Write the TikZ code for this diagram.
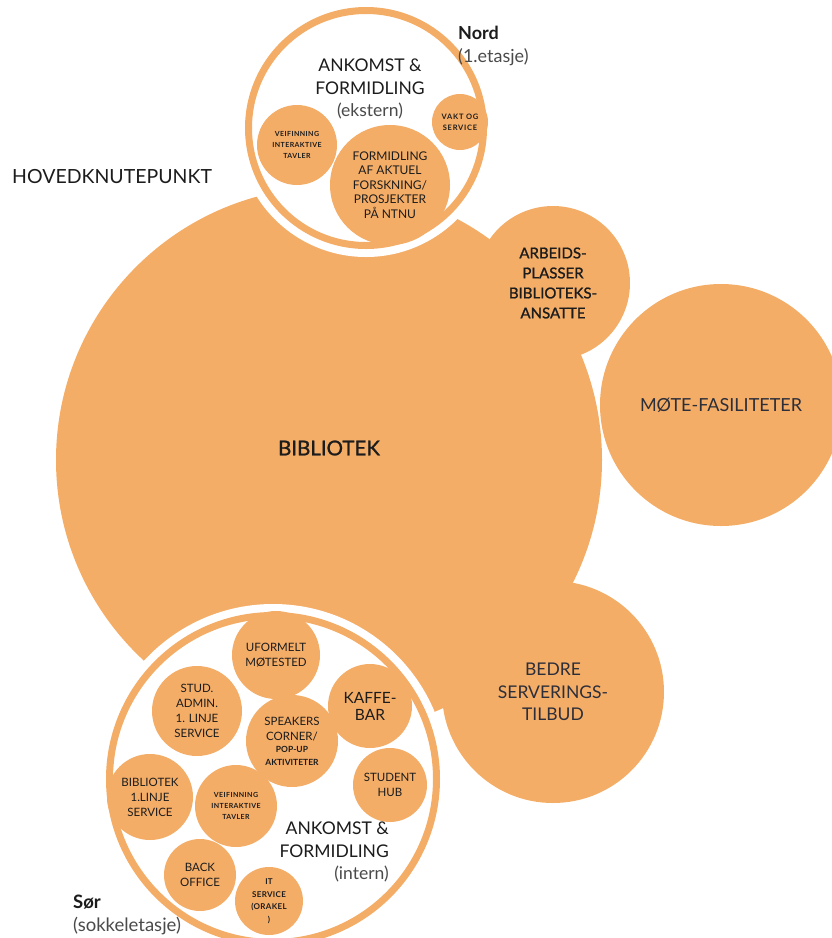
\documentclass[tikz,border=0pt]{standalone}
\usepackage{fontspec}
\setmainfont{Lato}
\newfontfamily\medfont{Lato}[FakeBold=1.2]
\usetikzlibrary{positioning}
\definecolor{orng}{HTML}{F4AD67}
\definecolor{ink}{HTML}{1C1C1C}
\definecolor{slate}{HTML}{2C2E3A}
\definecolor{greytxt}{HTML}{4A4A4A}

\begin{document}
\begin{tikzpicture}[
  x=1pt, y=-1pt,
  blob/.style={circle, fill=orng, inner sep=0pt, align=center, text=ink},
  zone/.style={circle, inner sep=0pt, fill=white, draw=orng, line width=7pt,
    preaction={draw=white, line width=23pt}},
  txtiny/.style={font=\bfseries\fontsize{7}{11}\selectfont\addfontfeature{LetterSpace=6}},
  txsmall/.style={font=\fontsize{11.5}{15}\selectfont},
  txmid/.style={font=\medfont\fontsize{15}{20}\selectfont},
  txbig/.style={font=\fontsize{17.5}{22.5}\selectfont},
  caption/.style={inner sep=0pt, text=ink}
]
  \useasboundingbox (0,0) rectangle (831,938);

  \node[blob, minimum size=546pt,
    label={[font=\medfont\fontsize{20.5}{24}\selectfont, text=ink, yshift=12pt]center:BIBLIOTEK}] (bib) at (329,460) {};
  \node[blob, minimum size=154pt, txmid] (arb) at (553,283)
    {ARBEIDS-\\PLASSER\\BIBLIOTEKS-\\ANSATTE};
  \node[blob, minimum size=242pt, txbig, font=\fontsize{18}{23}\selectfont, text=slate] (mote) at (721,405) {MØTE-FASILITETER};
  \node[blob, minimum size=222pt, txbig, text=slate] (bedre) at (553,692)
    {BEDRE\\SERVERINGS-\\TILBUD};

  % nord
  \node[zone, minimum size=235pt] (nord) at (366,128) {};
  \node[caption, txbig, align=center] (nordtitle) at (370,89)
    {ANKOMST \&\\FORMIDLING\\{\color{greytxt}(ekstern)}};
  \node[blob, minimum size=80pt, txtiny] (veinord) at (297,145)
    {VEIFINNING\\INTERAKTIVE\\TAVLER};
  \node[blob, minimum size=120pt, txsmall, font=\fontsize{12}{14.6}\selectfont] (forsk) at (390,185)
    {FORMIDLING\\AF AKTUEL\\FORSKNING/\\PROSJEKTER\\PÅ NTNU};
  \node[blob, minimum size=56pt, txtiny, font=\bfseries\fontsize{7.5}{11}\selectfont\addfontfeature{LetterSpace=10}] (vakt) at (460,122) {VAKT OG\\SERVICE};
  \node[caption, align=left, anchor=west, font=\fontsize{18}{23}\selectfont] (nordlbl) at (458,46)
    {{\bfseries Nord}\\{\color{greytxt}(1.etasje)}};

  \node[caption, anchor=west, font=\fontsize{19.5}{22}\selectfont] (hoved) at (12,177) {HOVEDKNUTEPUNKT};

  % sor
  \node[zone, minimum size=327pt] (sor) at (273,779) {};
  \node[blob, minimum size=88pt, txsmall] (uform) at (276,655) {UFORMELT\\MØTESTED};
  \node[blob, minimum size=90pt, txsmall] (stud) at (197,711)
    {STUD.\\ADMIN.\\1. LINJE\\SERVICE};
  \node[blob, minimum size=84pt, txbig, font=\fontsize{15.5}{17}\selectfont] (kaffe) at (370,706) {KAFFE-\\BAR};
  \node[blob, minimum size=92pt, txsmall] (speak) at (292,741)
    {SPEAKERS\\CORNER/\\[-3pt]{\bfseries\fontsize{8.5}{12}\selectfont POP-UP}\\[-2pt]
     {\bfseries\fontsize{8.5}{12}\selectfont AKTIVITETER}};
  \node[blob, minimum size=74pt, txsmall] (hub) at (390,785) {STUDENT\\HUB};
  \node[blob, minimum size=86pt, txsmall] (biblin) at (150,797)
    {BIBLIOTEK\\1.LINJE\\SERVICE};
  \node[blob, minimum size=82pt, txtiny] (veisor) at (236,806)
    {VEIFINNING\\INTERAKTIVE\\TAVLER};
  \node[blob, minimum size=72pt, txsmall] (back) at (200,875) {BACK\\OFFICE};
  \node[blob, minimum size=68pt, txtiny, font=\bfseries\fontsize{8}{12.5}\selectfont\addfontfeature{LetterSpace=4}] (it) at (269,901)
    {IT\\SERVICE\\(ORAKEL\\)};
  \node[caption, txbig, align=right, anchor=east] (sortitle) at (389,852)
    {ANKOMST \&\\FORMIDLING\\{\color{greytxt}(intern)}};
  \node[caption, align=left, anchor=west, font=\fontsize{18.5}{23}\selectfont] (sorlbl) at (73,915)
    {{\bfseries Sør}\\{\color{greytxt}(sokkeletasje)}};
\end{tikzpicture}
\end{document}
